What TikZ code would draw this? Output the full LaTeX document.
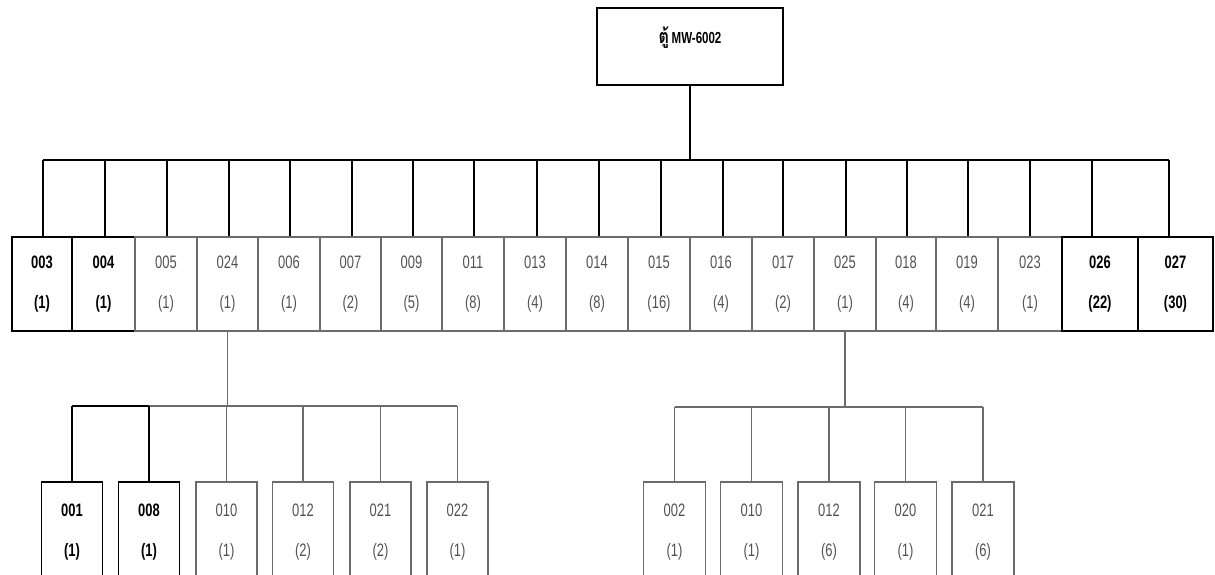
\documentclass[tikz,border=0pt]{standalone}
\usepackage{fontspec}
\setmainfont{Liberation Sans}
\newfontfamily\narrowfont[FakeStretch=0.72]{Liberation Sans}
\newfontfamily\thaifont[Script=Thai,FakeStretch=0.8]{Loma}
\usetikzlibrary{positioning,calc}

\colorlet{boxgray}{black!58}
\colorlet{textgray}{black!68}

\tikzset{
	unitbox/.style={draw, line width=1.5pt, inner sep=0pt, align=center,
		font=\narrowfont\fontsize{18}{40}\selectfont},
	darkbox/.style={unitbox, font=\narrowfont\bfseries\fontsize{18}{40}\selectfont},
	graybox/.style={unitbox, draw=boxgray, line width=1.3pt, text=textgray},
	wire/.style={line width=1.5pt},
	graywire/.style={draw=boxgray, line width=1.3pt}
}

\begin{document}
\begin{tikzpicture}[x=1pt,y=-1pt]
		\useasboundingbox (0,0) rectangle (1215,575);
		%\draw (0,0) grid[step=100] (1215,575);

		% cabinet
		\node[draw, line width=1.5pt, minimum width=186pt, minimum height=77pt] (cab) at (690,46.5) {};
		\node[font=\narrowfont\bfseries\fontsize{16}{18}\selectfont] (cabname) at (690,38)
			{{\thaifont\fontsize{20}{22}\selectfont ตู้}\,MW-6002};

		% bus to the units
		\coordinate (busL) at (43,160);
		\coordinate (busR) at (1169,160);
		\draw[wire] (busL) -- (busR);
		\draw[wire] (cab.south) -- (cab.south |- busL);

		% units of the cabinet
		\foreach \l/\r/\dx/\code/\num/\sty [count=\i] in {
			12/72/43/003/1/darkbox, 72/135/105/004/1/darkbox, 135/197/167/005/1/graybox,
			197/258/229/024/1/graybox, 258/320/290/006/1/graybox, 320/381/352/007/2/graybox,
			381/442/413/009/5/graybox, 442/504/474/011/8/graybox, 504/566/537/013/4/graybox,
			566/628/599/014/8/graybox, 628/690/661/015/16/graybox, 690/752/723/016/4/graybox,
			752/814/783/017/2/graybox, 814/876/846/025/1/graybox, 876/936/907/018/4/graybox,
			936/998/968/019/4/graybox, 998/1062/1030/023/1/graybox, 1062/1138/1092/026/22/darkbox,
			1138/1213/1169/027/30/darkbox}
		{
			\node[\sty, minimum width={\r pt-\l pt}, minimum height=94pt] (t\code) at ({(\l+\r)/2},284) {\code\\(\num)};
			\coordinate (d\i) at (\dx,160);
			\draw[wire] (d\i) -- (d\i |- t\code.north);
		}

		% parts under 024
		\coordinate (lbL) at (72,406);
		\coordinate (lbR) at (457,406);
		\foreach \c/\code/\num/\sty in {72/001/1/darkbox, 149/008/1/darkbox, 226.5/010/1/graybox,
			303/012/2/graybox, 380.5/021/2/graybox, 457.5/022/1/graybox}
		{
			\node[\sty, minimum width=61pt, minimum height=100pt] (bl\code) at (\c,532) {\code\\(\num)};
		}
		\draw[graywire] (t024.south) -- (t024.south |- lbL);
		\draw[wire] (lbL) -- (bl008.north |- lbL);
		\draw[graywire] (bl008.north |- lbL) -- (lbR);
		\draw[wire] (bl001.north |- lbL) -- (bl001.north);
		\draw[wire] (bl008.north |- lbL) -- (bl008.north);
		\foreach \code in {010,012,021,022}
			\draw[graywire] (bl\code.north |- lbL) -- (bl\code.north);

		% parts under 025
		\coordinate (rbL) at (674.5,407);
		\coordinate (rbR) at (983,407);
		\foreach \c/\code/\num in {674.5/002/1, 751.5/010/1, 829/012/6, 905.5/020/1, 983/021/6}
		{
			\node[graybox, minimum width=62pt, minimum height=100pt] (br\code) at (\c,532) {\code\\(\num)};
			\draw[graywire] (br\code.north |- rbL) -- (br\code.north);
		}
		\draw[graywire] (t025.south) -- (t025.south |- rbL);
		\draw[graywire] (rbL) -- (rbR);
	\end{tikzpicture}
\end{document}
